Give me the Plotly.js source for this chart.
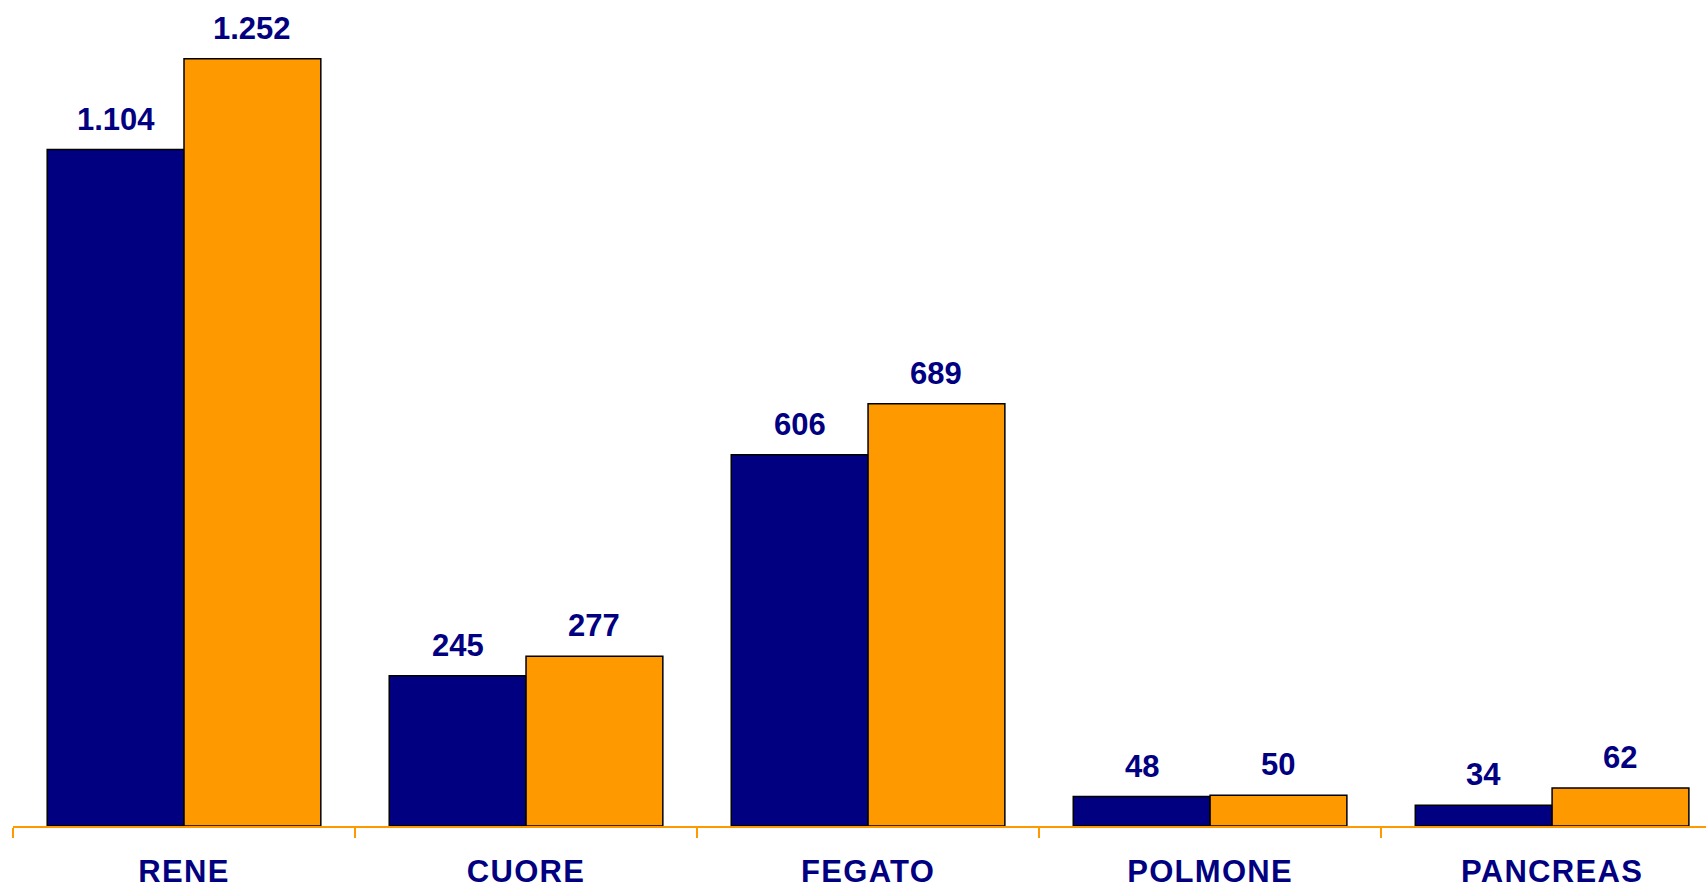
<!DOCTYPE html>
<html>
<head>
<meta charset="utf-8">
<script src="https://cdn.plot.ly/plotly-3.0.1.min.js"></script>
<style>
  html, body { margin: 0; padding: 0; background: #ffffff; }
  #chart { width: 1706px; height: 888px; }
  #chart .xtick text { letter-spacing: 1.3px; }
</style>
</head>
<body>
<div id="chart"></div>
<script>
const categories = ["RENE", "CUORE", "FEGATO", "POLMONE", "PANCREAS"];
const series1Values = [1104, 245, 606, 48, 34];
const series2Values = [1252, 277, 689, 50, 62];

const NAVY = "#000080";
const ORANGE = "#FF9900";
const FONT = "Liberation Sans, Arial, sans-serif";

function fmt(v) {
  return String(v).replace(/\B(?=(\d{3})+(?!\d))/g, ".");
}

const traces = [
  {
    type: "bar",
    x: categories,
    y: series1Values,
    marker: { color: NAVY, line: { color: "#000000", width: 1.5 } },
    hoverinfo: "none"
  },
  {
    type: "bar",
    x: categories,
    y: series2Values,
    marker: { color: ORANGE, line: { color: "#000000", width: 1.5 } },
    hoverinfo: "none"
  }
];

const annotations = [];
categories.forEach((c, i) => {
  [[series1Values, -0.2], [series2Values, 0.2]].forEach(([vals, off]) => {
    annotations.push({
      x: i + off,
      y: vals[i],
      xref: "x",
      yref: "y",
      text: fmt(vals[i]),
      showarrow: false,
      yanchor: "middle",
      yshift: 30.5,
      font: { family: FONT, size: 31, color: NAVY, weight: "bold" }
    });
  });
});

const layout = {
  width: 1706,
  height: 888,
  margin: { l: 13, r: 0, t: 0, b: 62 },
  paper_bgcolor: "#ffffff",
  plot_bgcolor: "#ffffff",
  barmode: "group",
  bargap: 0.2,
  bargroupgap: 0,
  showlegend: false,
  xaxis: {
    type: "category",
    range: [-0.5, 4.45],
    showline: true,
    linecolor: ORANGE,
    linewidth: 2,
    ticks: "outside",
    tickson: "boundaries",
    ticklen: 10,
    tickwidth: 2,
    tickcolor: ORANGE,
    ticklabelstandoff: 17,
    showgrid: false,
    zeroline: false,
    tickfont: { family: FONT, size: 31, color: NAVY, weight: "bold" },
    fixedrange: true
  },
  yaxis: {
    range: [0, 1348],
    visible: false,
    showgrid: false,
    zeroline: false,
    fixedrange: true
  },
  annotations: annotations
};

Plotly.newPlot("chart", traces, layout, { displayModeBar: false, staticPlot: true });
</script>
</body>
</html>
